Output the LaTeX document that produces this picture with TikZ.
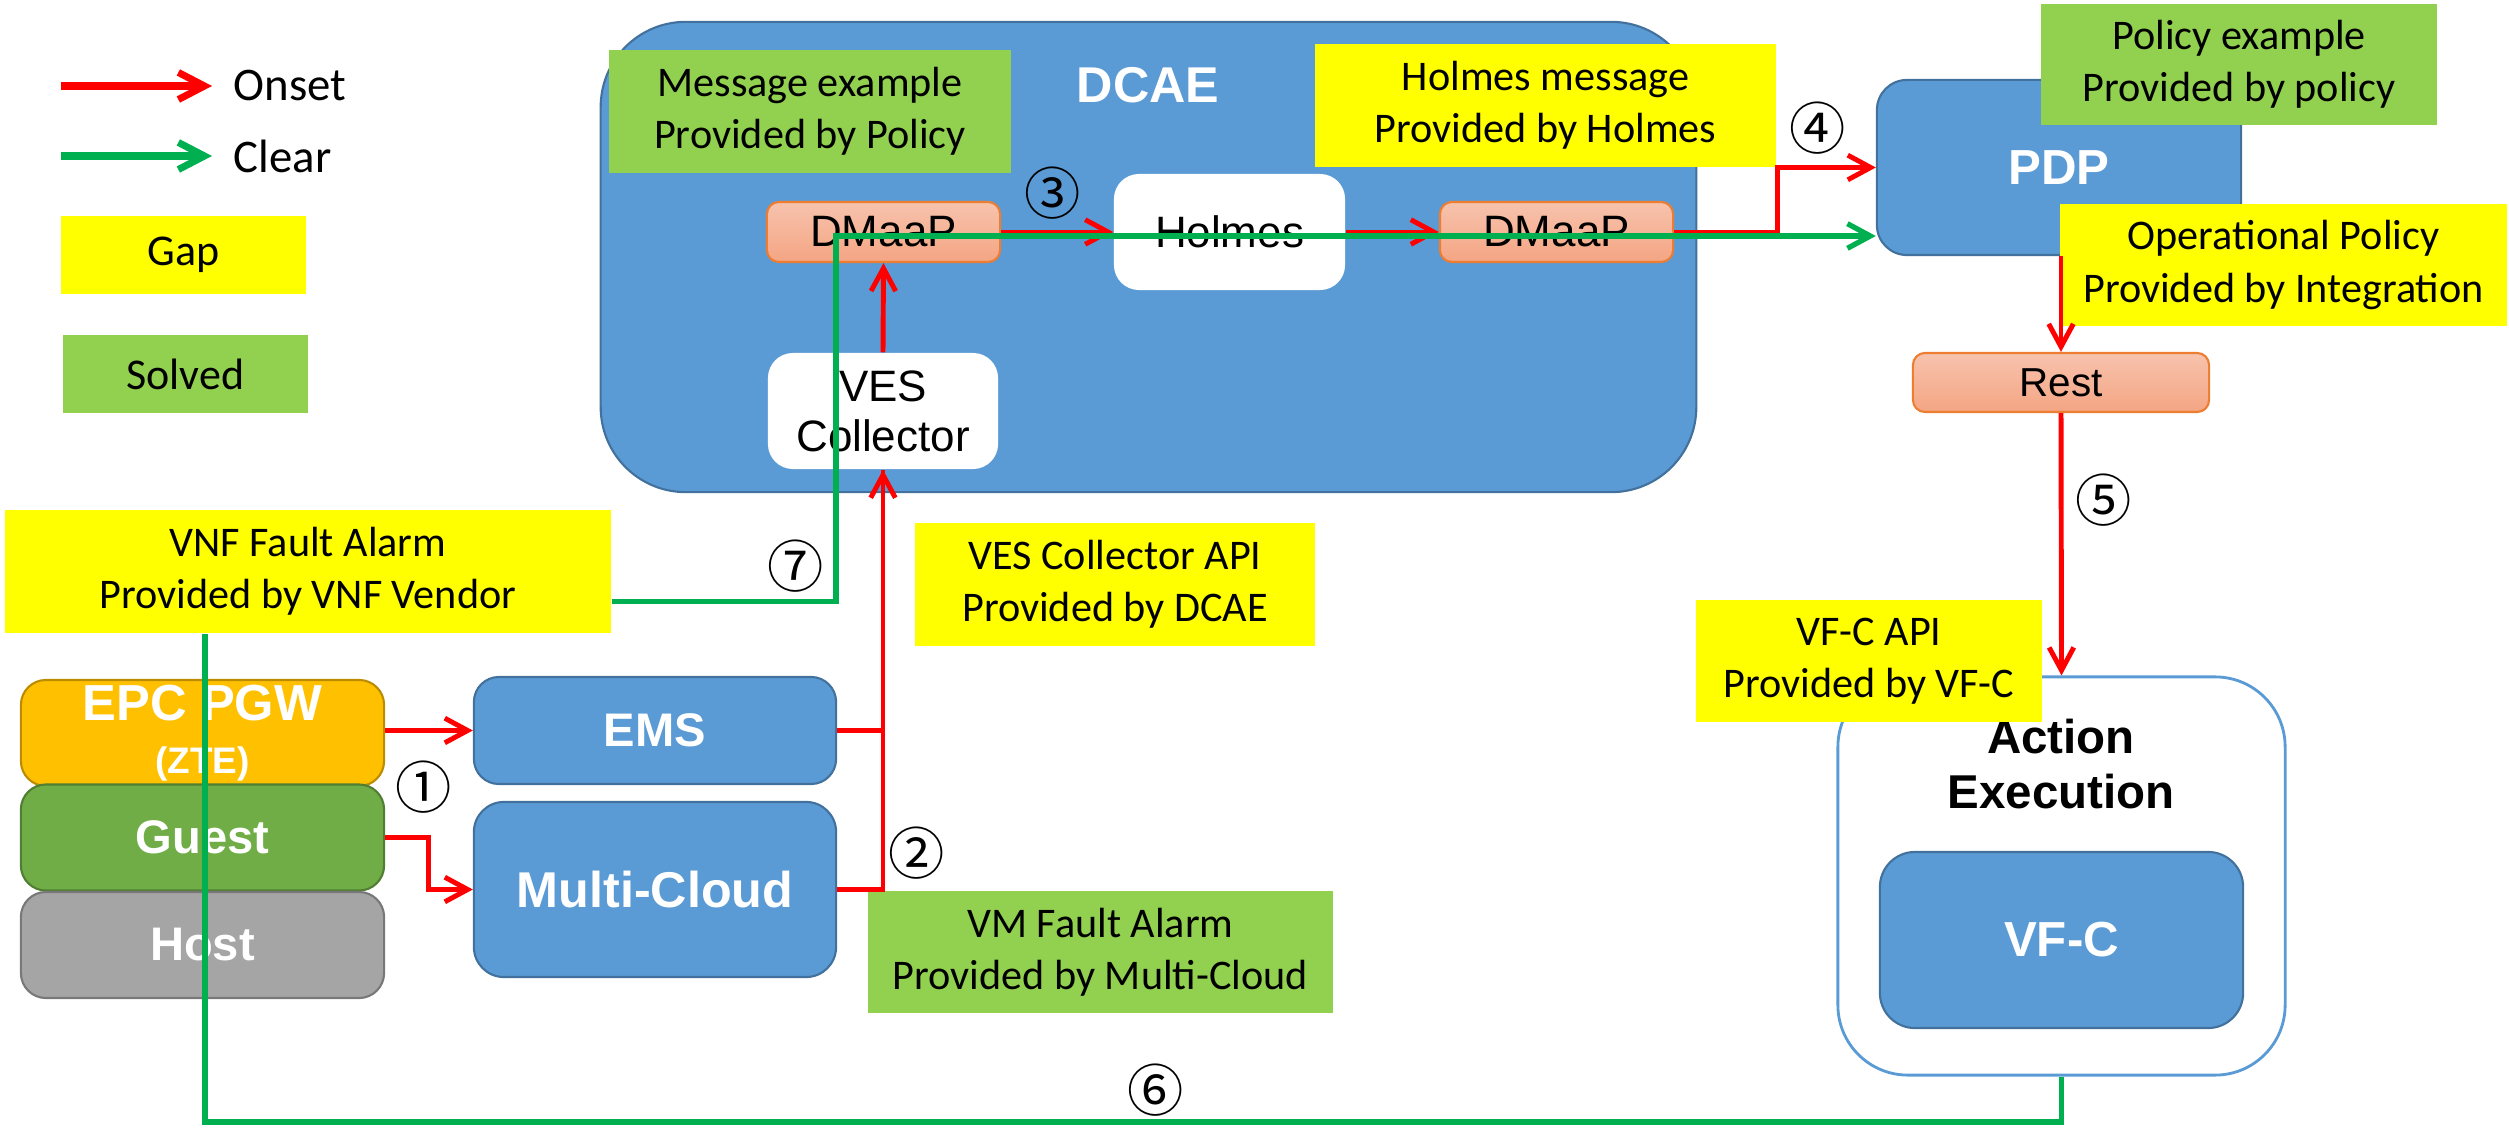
\documentclass[tikz,border=0pt]{standalone}
\usepackage{fontspec}
\setmainfont{Carlito}
\newfontfamily\arialfont{Liberation Sans}
\newfontfamily\circfont{Noto Sans CJK JP}
\usetikzlibrary{arrows.meta, positioning, calc}
\definecolor{boxBlue}{HTML}{5B9BD5}
\definecolor{boxBlueLine}{HTML}{41719C}
\definecolor{gapYellow}{HTML}{FFFF00}
\definecolor{solvedGreen}{HTML}{92D050}
\definecolor{onsetRed}{HTML}{FF0000}
\definecolor{clearGreen}{HTML}{00B050}
\definecolor{pgwOrange}{HTML}{FFC000}
\definecolor{pgwLine}{HTML}{BC8C00}
\definecolor{guestGreen}{HTML}{70AD47}
\definecolor{guestLine}{HTML}{507E32}
\definecolor{hostGray}{HTML}{A5A5A5}
\definecolor{hostLine}{HTML}{787878}
\definecolor{busTop}{HTML}{F7C3AD}
\definecolor{busBottom}{HTML}{F4A583}
\definecolor{busLine}{HTML}{ED7D31}

\begin{document}
\begin{tikzpicture}[x=0.01cm, y=-0.01cm,
    box/.style={draw=boxBlueLine, line width=0.6pt, fill=boxBlue, rounded corners=#1,
        text=white, font=\arialfont\bfseries\fontsize{13.4}{16}\selectfont,
        align=center, inner sep=0pt},
    box/.default=0.3cm,
    layer/.style 2 args={draw=#2, line width=0.6pt, fill=#1, rounded corners=0.25cm,
        text=white, font=\arialfont\bfseries\fontsize{13.4}{15}\selectfont,
        align=center, inner sep=0pt, minimum width=3.63cm, minimum height=1.06cm},
    whitebox/.style={fill=white, rounded corners=0.25cm,
        font=\arialfont\fontsize{12.5}{14.2}\selectfont, align=center, inner sep=0pt},
    bus/.style={draw=busLine, line width=0.6pt, top color=busTop, bottom color=busBottom,
        rounded corners=0.12cm, font=\arialfont\fontsize{12.5}{14}\selectfont, inner sep=0pt},
    note/.style={fill=#1, font=\fontsize{12}{14.8}\selectfont, align=center, inner sep=0pt},
    circnum/.style={font=\circfont\fontsize{16}{16}\selectfont, inner sep=0pt},
    onsetline/.style={draw=onsetRed, line width=1.4pt, -{Straight Barb[length=6.5pt,width=7pt]}},
    clearline/.style={draw=clearGreen, line width=1.5pt},
]
    \useasboundingbox (0,0) rectangle (2509,1128);

    % legend
    \coordinate (onsetA) at (61,86);
    \node[anchor=west, inner xsep=6pt, font=\fontsize{13.3}{16}\selectfont] (onset) at (212,86) {Onset};
    \coordinate (clearA) at (61,156);
    \node[anchor=west, inner xsep=6pt, font=\fontsize{13.3}{16}\selectfont] (clear) at (212,156) {Clear};
    \draw[onsetline, line width=2pt, -{Straight Barb[length=7.4pt,width=7.7pt]}] (onsetA) -- (onset.west);
    \draw[clearline, line width=2pt, -{Straight Barb[length=7.4pt,width=7.7pt]}] (clearA) -- (clear.west);
    \node[note=gapYellow, font=\fontsize{12.5}{15}\selectfont, minimum width=2.45cm, minimum height=0.78cm] (gap) at (183.5,255) {Gap};
    \node[note=solvedGreen, font=\fontsize{12.5}{15}\selectfont, minimum width=2.45cm, minimum height=0.78cm] (solved) at (185.5,374) {Solved};

    % DCAE
    \node[box=0.85cm, minimum width=10.95cm, minimum height=4.7cm] (dcae) at (1148.5,257) {};
    \node[text=white, font=\arialfont\bfseries\fontsize{14.3}{16}\selectfont] (dcaeTitle) at (1148,85) {DCAE};
    \node[bus, minimum width=2.33cm, minimum height=0.6cm] (dmaapIn) at (883.5,232) {DMaaP};
    \node[whitebox, minimum width=2.31cm, minimum height=1.16cm] (holmes) at (1229.5,232) {Holmes};
    \node[bus, minimum width=2.33cm, minimum height=0.6cm] (dmaapOut) at (1556.5,232) {DMaaP};
    \node[whitebox, minimum width=2.3cm, minimum height=1.16cm] (ves) at (883,411) {VES\\Collector};

    % policy side
    \node[box, font=\arialfont\bfseries\fontsize{14}{16}\selectfont, minimum width=3.64cm, minimum height=1.75cm] (pdp) at (2059,167.5) {PDP};
    \node[bus, font=\arialfont\fontsize{11.5}{13}\selectfont, minimum width=2.96cm, minimum height=0.59cm] (rest) at (2061,382.5) {Rest};
    \node[draw=boxBlue, line width=0.8pt, fill=white, rounded corners=0.7cm, minimum width=4.47cm, minimum height=3.98cm] (act) at (2061.5,876) {};
    \node[font=\arialfont\bfseries\fontsize{13.5}{15.6}\selectfont, align=center] (actTitle) at (2061,764) {Action\\Execution};
    \node[box=0.35cm, font=\arialfont\bfseries\fontsize{14}{16}\selectfont, minimum width=3.63cm, minimum height=1.76cm] (vfc) at (2061.5,940) {VF-C};

    % VNF side
    \node[layer={pgwOrange}{pgwLine}, font=\arialfont\bfseries\fontsize{14.4}{15}\selectfont] (pgw) at (202.5,733) {EPC PGW\\{\fontsize{10.5}{12}\selectfont (ZTE)}};
    \node[layer={guestGreen}{guestLine}] (guest) at (202.5,837.5) {Guest};
    \node[layer={hostGray}{hostLine}] (host) at (202.5,945) {Host};
    \node[box=0.25cm, minimum width=3.62cm, minimum height=1.07cm] (ems) at (655,730.5) {EMS};
    \node[box, font=\arialfont\bfseries\fontsize{14.3}{16}\selectfont, minimum width=3.62cm, minimum height=1.75cm] (cloud) at (655,889.5) {Multi-Cloud};

    % gap / solved notes
    \node[note=solvedGreen, minimum width=4.02cm, minimum height=1.23cm] (msgEx) at (810,111.5) {Message example\\Provided by Policy};
    \node[note=gapYellow, minimum width=4.61cm, minimum height=1.23cm] (holmesMsg) at (1545.5,105.5) {Holmes message\\Provided by Holmes};
    \node[note=solvedGreen, minimum width=3.96cm, minimum height=1.21cm] (policyEx) at (2239,64.5) {Policy example\\Provided by policy};
    \node[note=gapYellow, minimum width=4.47cm, minimum height=1.22cm] (opPolicy) at (2283.5,265) {Operational Policy\\Provided by Integration};
    \node[note=gapYellow, minimum width=3.46cm, minimum height=1.22cm] (vfcApi) at (1869,661) {VF-C API\\Provided by VF-C};
    \node[note=gapYellow, minimum width=6.06cm, minimum height=1.23cm] (vnfAlarm) at (308,571.5) {VNF Fault Alarm\\Provided by VNF Vendor};
    \node[note=gapYellow, minimum width=4cm, minimum height=1.23cm] (vesApi) at (1115,584.5) {VES Collector API\\Provided by DCAE};
    \node[note=solvedGreen, minimum width=4.65cm, minimum height=1.22cm] (vmAlarm) at (1100.5,952) {VM Fault Alarm\\Provided by Multi-Cloud};

    % onset
    \draw[onsetline] (pgw.east |- ems.west) -- (ems.west);
    \draw[onsetline] (guest.east) -- ++(43,0) |- (cloud.west);
    \draw[onsetline, -] (ems.east) -| (ves.south);
    \draw[onsetline] (cloud.east) -| (ves.south);
    \draw[onsetline] (ves.north) -- (dmaapIn.south);
    \draw[onsetline] (dmaapIn.east) -- (holmes.west);
    \draw[onsetline] (holmes.east) -- (dmaapOut.west);
    \draw[onsetline] (dmaapOut.east) -- ++(103,0) |- (pdp.west);
    \draw[onsetline] (rest.north |- pdp.south) -- (rest.north);
    \draw[onsetline] (rest.south) -- (act.north);

    % clear
    \coordinate (clrTurn) at (836,236);
    \coordinate (clrLow) at (205,1122);
    \draw[clearline] (act.south) |- (clrLow) -- (clrLow |- vnfAlarm.south);
    \draw[clearline, -{Straight Barb[length=6.5pt,width=7pt]}] ([yshift=-0.3cm]vnfAlarm.east) -| (clrTurn) -- (clrTurn -| pdp.west);

    % step numbers
    \node[circnum] (n1) at (424,787) {①};
    \node[circnum] (n2) at (917,853) {②};
    \node[circnum] (n3) at (1053,193) {③};
    \node[circnum] (n4) at (1818,128) {④};
    \node[circnum] (n5) at (2104,500) {⑤};
    \node[circnum] (n6) at (1156,1090) {⑥};
    \node[circnum] (n7) at (796,566) {⑦};
\end{tikzpicture}
\end{document}
